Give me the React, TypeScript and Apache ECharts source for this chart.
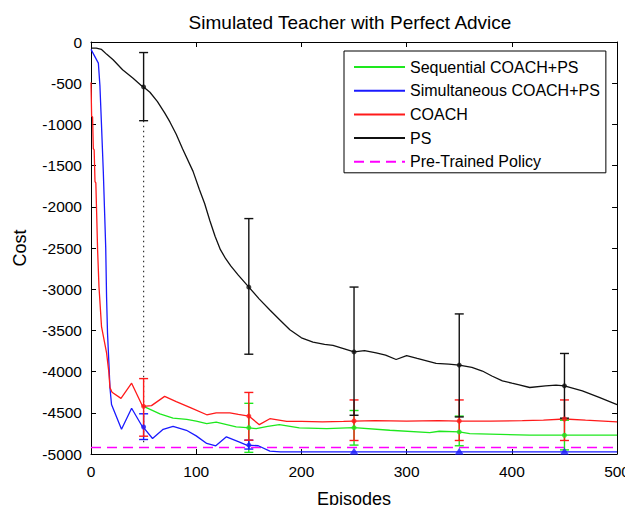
import React, { useEffect, useRef } from "react";
import * as echarts from "echarts";

const FONT = "'Liberation Sans', Arial, Helvetica, sans-serif";

const titleText = "Simulated Teacher with Perfect Advice";
const xName = "Episodes";
const yName = "Cost";
const legendNames = ["Sequential COACH+PS", "Simultaneous COACH+PS", "COACH", "PS", "Pre-Trained Policy"];

// [episode, cost]
const psLine: number[][] = [
  [0, -75], [5, -75], [10, -90], [15, -150], [21, -216], [30, -336], [40, -440], [48, -530], [50, -545],
  [56, -610], [63, -720], [70, -860], [75, -970], [81, -1120], [87, -1295], [97, -1570], [103, -1790],
  [108, -1960], [113, -2170], [118, -2360], [123, -2520], [128, -2630], [133, -2720], [140, -2830],
  [150, -2975], [160, -3120], [170, -3253], [180, -3380], [189, -3493], [200, -3590], [211, -3641],
  [222, -3670], [230, -3681], [240, -3720], [250, -3761], [260, -3745], [271, -3773], [280, -3800],
  [290, -3853], [300, -3805], [310, -3840], [328, -3901], [340, -3910], [350, -3921], [362, -3950],
  [372, -3993], [381, -4053], [391, -4113], [400, -4140], [407, -4160], [417, -4193], [432, -4173],
  [442, -4165], [450, -4173], [467, -4233], [483, -4313], [500, -4400],
];

const coachLine: number[][] = [
  [0, -490], [0.6, -900], [1.5, -910], [2.2, -1295], [3, -1310], [3.8, -1694], [4.6, -1710], [5.4, -2094],
  [6.3, -2533], [7.6, -2974], [10, -3453], [14.8, -3773], [17, -4013], [18, -4193], [20, -4250],
  [28.5, -4325], [38.6, -4141], [49, -4421], [50, -4421], [57.5, -4413], [70, -4301], [81, -4365],
  [95, -4440], [110, -4524], [119, -4500], [132, -4500], [140, -4520], [150, -4540], [160, -4644],
  [170, -4572], [186, -4604], [200, -4605], [220, -4610], [240, -4605], [250, -4600], [270, -4595],
  [300, -4600], [330, -4595], [350, -4600], [380, -4600], [410, -4595], [430, -4590], [450, -4575],
  [470, -4590], [500, -4610],
];

const simultaneousLine: number[][] = [
  [0, -90], [7, -256], [8.5, -536], [10, -1015], [11.7, -1574], [13, -2094], [14, -2500], [14.8, -3094],
  [15.7, -3533], [17, -3893], [18, -4193], [19.5, -4400], [29, -4700], [38.6, -4445], [49, -4672],
  [50, -4680], [58.5, -4812], [68.6, -4700], [78, -4664], [90.7, -4712], [100, -4780], [110, -4872],
  [118.6, -4900], [128.7, -4792], [140, -4850], [148, -4892], [159, -4900], [170, -4964], [180, -4975],
  [500, -4975],
];

const sequentialLine: number[][] = [
  [50, -4421], [65.5, -4512], [78, -4564], [91, -4580], [100, -4600], [110, -4632], [119, -4612],
  [138, -4672], [148, -4680], [157, -4692], [168, -4665], [179, -4644], [198, -4684], [224, -4692],
  [250, -4680], [284, -4712], [322, -4740], [331, -4724], [350, -4732], [360, -4752], [417, -4772],
  [500, -4772],
];

const pretrainedLine: number[][] = [[0, -4920], [500, -4920]];
const dottedGuide: number[][] = [[50, -955], [50, -4870]];

// [episode, low, high, mean]
const psErr: number[][] = [
  [50, -955, -128, -545], [150, -3789, -2143, -2975], [250, -4530, -2974, -3761],
  [350, -4550, -3300, -3921], [450, -4565, -3780, -4173],
];
const coachErr: number[][] = [
  [50, -4784, -4085, -4421], [150, -4832, -4253, -4540], [250, -4836, -4344, -4600],
  [350, -4836, -4344, -4600], [450, -4836, -4344, -4575],
];
const sequentialErr: number[][] = [
  [150, -4980, -4385, -4680], [250, -4892, -4472, -4680], [350, -4900, -4540, -4732],
  [450, -4950, -4590, -4772],
];
const simultaneousErr: number[][] = [
  [50, -4824, -4512, -4672], [150, -4940, -4832, -4892],
];
const simultaneousTri: number[][] = [[250, -4968], [350, -4968], [450, -4968]];

const GREEN = "#1ee81e";
const BLUE = "#1a1aff";
const RED = "#ff1a1a";
const BLACK = "#111111";
const MAGENTA = "#ff00ff";

function errSeries(name: string, data: number[][], color: string, z: number) {
  return {
    name,
    type: "custom",
    z,
    data: data.map((d) => [d[0], d[1], d[2]]),
    encode: { x: 0, y: [1, 2] },
    renderItem: (params: any, api: any) => {
      const x = api.value(0);
      const lo = api.coord([x, api.value(1)]);
      const hi = api.coord([x, api.value(2)]);
      const w = 4.5;
      const style = { stroke: color, lineWidth: 1.4 };
      return {
        type: "group",
        children: [
          { type: "line", shape: { x1: lo[0], y1: lo[1], x2: hi[0], y2: hi[1] }, style },
          { type: "line", shape: { x1: lo[0] - w, y1: lo[1], x2: lo[0] + w, y2: lo[1] }, style },
          { type: "line", shape: { x1: hi[0] - w, y1: hi[1], x2: hi[0] + w, y2: hi[1] }, style },
        ],
      };
    },
  };
}

function meanSeries(name: string, data: number[][], color: string, z: number) {
  return {
    name,
    type: "scatter",
    z,
    symbol: "circle",
    symbolSize: 5,
    itemStyle: { color },
    data: data.map((d) => [d[0], d[3]]),
  };
}

function lineSeries(name: string, data: number[][], color: string, z: number, extra: any = {}) {
  return {
    name,
    type: "line",
    z,
    symbol: "none",
    data,
    lineStyle: { color, width: 1.3 },
    itemStyle: { color },
    ...extra,
  };
}

export default function App() {
  const ref = useRef<HTMLDivElement>(null);
  useEffect(() => {
    if (!ref.current) return;
    const chart = echarts.init(ref.current, undefined, { renderer: "svg" });
    const axisCommon = {
      type: "value",
      axisLine: { show: true, onZero: false, lineStyle: { color: "#000", width: 1 } },
      axisTick: { show: true, inside: true, length: 5, lineStyle: { color: "#000" } },
      splitLine: { show: false },
    };
    chart.setOption({
      animation: false,
      backgroundColor: "#fff",
      textStyle: { fontFamily: FONT },
      graphic: [
        {
          type: "text",
          x: 350,
          y: 22,
          style: {
            text: titleText,
            textAlign: "center",
            textVerticalAlign: "middle",
            font: `19px ${FONT}`,
            fill: "#000",
          },
        },
      ],
      grid: { left: 91, top: 42, right: 15, bottom: 54, containLabel: false },
      legend: {
        orient: "vertical",
        left: 344,
        top: 51,
        itemWidth: 51,
        itemHeight: 14,
        itemGap: 7.7,
        padding: [8, 6, 3, 9],
        borderColor: "#000",
        borderWidth: 1,
        backgroundColor: "#fff",
        itemStyle: { opacity: 0 },
        textStyle: { fontSize: 16, color: "#000", fontFamily: FONT, lineHeight: 16 },
        data: legendNames,
      },
      xAxis: [
        {
          ...axisCommon,
          min: 0,
          max: 500,
          interval: 100,
          axisLabel: { fontSize: 15.5, color: "#000", margin: 9, fontFamily: FONT, formatter: (v: number) => String(v) },
          name: xName,
          nameLocation: "middle",
          nameGap: 36,
          nameTextStyle: { fontSize: 18, color: "#000", fontFamily: FONT },
        },
        {
          ...axisCommon,
          position: "top",
          min: 0,
          max: 500,
          interval: 100,
          axisLabel: { show: false },
        },
      ],
      yAxis: [
        {
          ...axisCommon,
          min: -5000,
          max: 0,
          interval: 500,
          axisLabel: { fontSize: 15.5, color: "#000", margin: 9, fontFamily: FONT, formatter: (v: number) => String(v) },
          name: yName,
          nameLocation: "middle",
          nameGap: 62,
          nameTextStyle: { fontSize: 18, color: "#000", fontFamily: FONT },
        },
        {
          ...axisCommon,
          position: "right",
          min: -5000,
          max: 0,
          interval: 500,
          axisLabel: { show: false },
        },
      ],
      series: [
        lineSeries("Pre-Trained Policy", pretrainedLine, MAGENTA, 2, {
          lineStyle: { color: MAGENTA, width: 1.5, type: [10, 6] },
        }),
        lineSeries("Sequential COACH+PS", sequentialLine, GREEN, 3),
        lineSeries("Simultaneous COACH+PS", simultaneousLine, BLUE, 3),
        lineSeries("COACH", coachLine, RED, 4),
        lineSeries("PS", psLine, BLACK, 4),
        {
          name: "guide",
          type: "line",
          z: 3,
          symbol: "none",
          data: dottedGuide,
          lineStyle: { color: "#333", width: 1.2, type: [1.5, 3.5] },
        },
        errSeries("Sequential err", sequentialErr, GREEN, 5),
        errSeries("Simultaneous err", simultaneousErr, BLUE, 5),
        errSeries("COACH err", coachErr, RED, 6),
        errSeries("PS err", psErr, BLACK, 6),
        meanSeries("Sequential mean", sequentialErr, GREEN, 7),
        meanSeries("Simultaneous mean", simultaneousErr, BLUE, 7),
        meanSeries("COACH mean", coachErr, RED, 7),
        meanSeries("PS mean", psErr, BLACK, 7),
        {
          name: "Simultaneous tri",
          type: "scatter",
          z: 7,
          symbol: "triangle",
          symbolSize: [9, 7],
          itemStyle: { color: BLUE },
          data: simultaneousTri,
        },
      ],
    });
    return () => chart.dispose();
  }, []);
  return <div ref={ref} style={{ width: 633, height: 513, margin: -8 }} />;
}
